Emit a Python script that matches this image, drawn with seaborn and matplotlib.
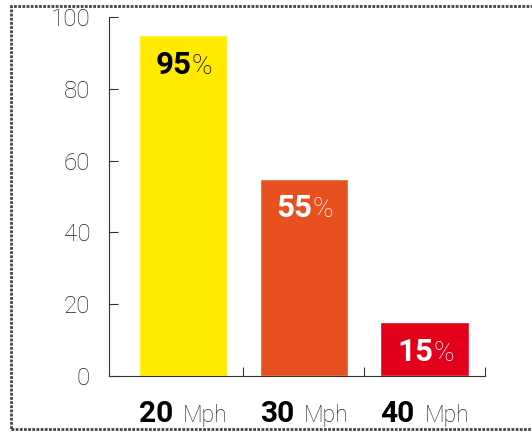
import matplotlib
matplotlib.use('Agg')
import matplotlib.pyplot as plt
import matplotlib.patches as mpatches
import seaborn as sns
import pandas as pd

# chart data
speeds = ['20', '30', '40']
unit = 'Mph'
values = [95, 55, 15]
bar_colors = ['#FFEA00', '#E8511F', '#E2001A']
label_colors = ['black', 'white', 'white']

sns.set_theme(style='white')
plt.rcParams['font.family'] = ['Roboto', 'DejaVu Sans']

df = pd.DataFrame({'speed': speeds, 'value': values})

fig = plt.figure(figsize=(5.32, 4.33), dpi=100)
ax = fig.add_axes([109 / 532, 1 - 376 / 433, 376 / 532, 359 / 433])

sns.barplot(data=df, x='speed', y='value', hue='speed', palette=bar_colors,
            width=0.73, legend=False, ax=ax, saturation=1)

ax.set_xlim(-0.61, 2.5)
ax.set_ylim(0, 100)
ax.set_yticks(range(0, 101, 20))
ax.set_xticks(range(len(speeds)))
ax.set_xticklabels([''] * len(speeds))
ax.set_xticks([0.5, 1.5, 2.5], minor=True)
ax.tick_params(axis='x', which='major', length=0)
ax.tick_params(axis='x', which='minor', direction='in', length=6.5,
               width=0.8, color='#333333', bottom=True)
ax.tick_params(axis='y', direction='in', length=6.5, width=0.8,
               color='#333333', pad=13.5, left=True)
for lab in ax.get_yticklabels():
    lab.set_fontsize(17.5)
    lab.set_fontweight('light')
    lab.set_color('#222222')
ax.set_xlabel('')
ax.set_ylabel('')

sns.despine(ax=ax, top=True, right=True)
for side in ['left', 'bottom']:
    ax.spines[side].set_color('#333333')
    ax.spines[side].set_linewidth(0.8)

# value labels inside bars
for i, (v, c) in enumerate(zip(values, label_colors)):
    ax.annotate(str(v), xy=(i, v), xytext=(6.5, -28), textcoords='offset points',
                ha='right', va='baseline', fontsize=22.5, fontweight='bold', color=c)
    ax.annotate('%', xy=(i, v), xytext=(6.5, -28), textcoords='offset points',
                ha='left', va='baseline', fontsize=20, fontweight='light', color=c)

# category labels under the axis
for i, s in enumerate(speeds):
    ax.annotate(s, xy=(i, 0), xycoords=('data', 'axes fraction'), xytext=(-7, -33),
                textcoords='offset points', ha='right', va='baseline',
                fontsize=21.5, fontweight='bold', color='black', annotation_clip=False)
    ax.annotate(unit, xy=(i, 0), xycoords=('data', 'axes fraction'), xytext=(0, -33),
                textcoords='offset points', ha='left', va='baseline',
                fontsize=16.5, fontweight='light', color='#222222', annotation_clip=False)

# frame round the figure (open on the right)
frame = mpatches.Rectangle((11 / 532, 1 - 429 / 433), 600 / 532, 423 / 433,
                           transform=fig.transFigure, fill=False,
                           edgecolor='#444444', linewidth=2, linestyle=(0, (1, 0.5)))
fig.patches.append(frame)

fig.savefig('out.png', dpi=100)
